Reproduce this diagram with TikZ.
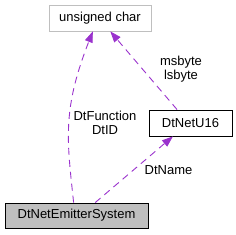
\documentclass[tikz,border=0pt]{standalone}
\usepackage{fontspec}
\setmainfont{Liberation Sans}
\usetikzlibrary{arrows.meta,calc}
\definecolor{edgepurple}{HTML}{9A32CD}
\definecolor{boxgray}{HTML}{BFBFBF}

\begin{document}
\begin{tikzpicture}[x=1pt,y=-1pt,
    font=\fontsize{13}{14.5}\selectfont,
    cls/.style={draw=black, line width=0.8pt, inner sep=0pt, minimum height=26pt},
    usage/.style={edgepurple, line width=0.9pt, dash pattern=on 7pt off 5pt,
        -{Triangle[length=11pt,width=8pt]}},
    lbl/.style={align=center, inner sep=0pt}]
    \useasboundingbox (0,0) rectangle (236,235);

    % Classes
    \node[cls, draw=boxgray, minimum width=102pt] (uchar) at (100,18) {unsigned char};
    \node[cls, minimum width=83pt] (u16) at (190.5,123) {DtNetU16};
    \node[cls, fill=boxgray, minimum width=143pt, minimum height=25pt] (emit) at (76.5,215.5) {DtNetEmitterSystem};

    % Members
    \draw[usage] ($(emit.north west)!0.48!(emit.north east)$)
        .. controls (67,140) and (62,110) .. ($(uchar.south west)!0.43!(uchar.south east)$);
    \node[lbl] (fnid) at (105,123) {DtFunction\\DtID};

    \draw[usage] ($(u16.north west)!0.34!(u16.north east)$) -- ($(uchar.south west)!0.6!(uchar.south east)$);
    \node[lbl] (bytes) at (181,69) {msbyte\\lsbyte};

    \draw[usage] ($(emit.north west)!0.63!(emit.north east)$) -- ($(u16.south west)!0.29!(u16.south east)$);
    \node[lbl] (name) at (168.5,170) {DtName};
\end{tikzpicture}
\end{document}
